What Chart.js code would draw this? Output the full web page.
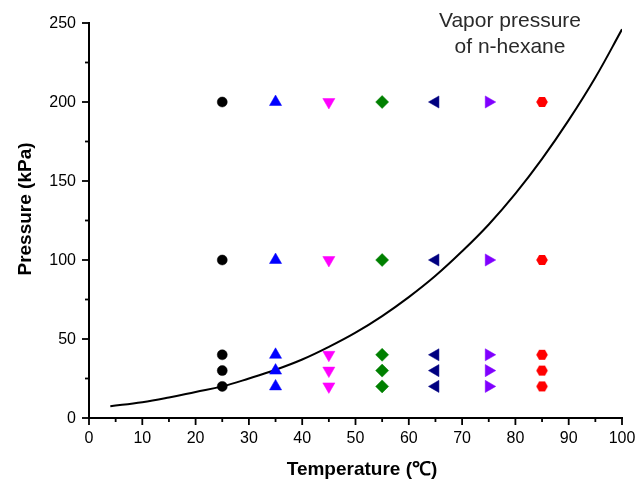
<!DOCTYPE html>
<html>
<head>
<meta charset="utf-8">
<script src="https://cdn.jsdelivr.net/npm/chart.js@4"></script>
<style>
  html, body { margin: 0; padding: 0; background: #fff; }
  #wrap { width: 637px; height: 482px; }
</style>
</head>
<body>
<div id="wrap"><canvas id="c" width="637" height="482"></canvas></div>
<script>
// measured temperatures (C)
const temps = [25, 35, 45, 55, 65, 75, 85];
const pressures = [20, 30, 40, 100, 200];

// vapor pressure curve of n-hexane
const curveT = [4, 10, 15, 20, 25, 30, 35, 40, 45, 50, 55, 60, 65, 70, 75, 80, 85, 90, 95, 100];
const curveP = [7.5, 10, 13, 16.5, 20, 25, 30.5, 37, 45, 54, 64.5, 76.5, 90, 105.5, 122.5, 142, 164, 188.5, 215.5, 246];

const xTicks = [0, 10, 20, 30, 40, 50, 60, 70, 80, 90, 100];
const yTicks = [0, 50, 100, 150, 200, 250];

// small red hexagon marker
function hexagon(color, r) {
    const c = document.createElement('canvas');
    c.width = c.height = Math.ceil(r * 2 + 2);
    const g = c.getContext('2d');
    const m = c.width / 2;
    g.fillStyle = color;
    g.beginPath();
    for (let k = 0; k < 6; k++) {
        const a = k * Math.PI / 3;
        const px = m + r * Math.cos(a), py = m + r * Math.sin(a);
        if (k === 0) g.moveTo(px, py); else g.lineTo(px, py);
    }
    g.closePath();
    g.fill();
    return c;
}

const markerColors = ['#000000', '#0000ff', '#ff00ff', '#008000', '#000080', '#8000ff', '#ff0000'];
const markerStyles = ['circle', 'triangle', 'triangle', 'rectRot', 'triangle', 'triangle', hexagon('#ff0000', 5.8)];
const markerRot = [0, 0, 180, 0, -90, 90, 0];
const markerSize = [5, 7, 7, 6.5, 7, 7, 5.8];

const datasets = [{
    type: 'line',
    data: curveT.map((t, i) => ({ x: t, y: curveP[i] })),
    borderColor: '#000',
    borderWidth: 2,
    pointRadius: 0,
    tension: 0.4,
    fill: false,
    order: 10
}];

temps.forEach((t, i) => {
    datasets.push({
        type: 'scatter',
        data: pressures.map(p => ({ x: t, y: p })),
        pointStyle: markerStyles[i],
        rotation: markerRot[i],
        backgroundColor: markerColors[i],
        borderColor: markerColors[i],
        borderWidth: 0.5,
        pointRadius: markerSize[i],
        order: 1
    });
});

// axes, ticks, labels and the note drawn by hand
const axisPlugin = {
    id: 'axes',
    afterDraw(chart) {
        const ctx = chart.ctx;
        const xs = chart.scales.x, ys = chart.scales.y;
        const a = chart.chartArea;
        ctx.save();
        ctx.strokeStyle = '#000';
        ctx.fillStyle = '#000';
        ctx.lineWidth = 2;
        ctx.beginPath();
        ctx.moveTo(a.left, a.top - 1);
        ctx.lineTo(a.left, a.bottom);
        ctx.lineTo(a.right + 1, a.bottom);
        ctx.stroke();

        ctx.lineWidth = 1.8;
        for (let v = 0; v <= 100; v += 5) {
            const px = xs.getPixelForValue(v);
            const len = v % 10 === 0 ? 7 : 4;
            ctx.beginPath();
            ctx.moveTo(px, a.bottom);
            ctx.lineTo(px, a.bottom + len);
            ctx.stroke();
        }
        for (let v = 0; v <= 250; v += 25) {
            const py = ys.getPixelForValue(v);
            const len = v % 50 === 0 ? 7 : 4;
            ctx.beginPath();
            ctx.moveTo(a.left, py);
            ctx.lineTo(a.left - len, py);
            ctx.stroke();
        }

        ctx.font = '16px Arial, "Liberation Sans"';
        ctx.textAlign = 'center';
        ctx.textBaseline = 'middle';
        xTicks.forEach(v => ctx.fillText(String(v), xs.getPixelForValue(v), 439));
        ctx.textAlign = 'right';
        yTicks.forEach(v => ctx.fillText(String(v), 76, ys.getPixelForValue(v) + 1));

        ctx.font = 'bold 19px Arial, "Liberation Sans"';
        ctx.textAlign = 'center';
        ctx.fillText('Temperature (\u2103)', 362, 470);
        ctx.save();
        ctx.translate(26, 209);
        ctx.rotate(-Math.PI / 2);
        ctx.fillText('Pressure (kPa)', 0, 0);
        ctx.restore();

        ctx.fillStyle = '#2a2a2a';
        ctx.font = '21px Arial, "Liberation Sans"';
        ctx.fillText('Vapor pressure', 510, 21);
        ctx.fillText('of n-hexane', 510, 47);
        ctx.restore();
    }
};

new Chart(document.getElementById('c'), {
    data: { datasets: datasets },
    options: {
        responsive: false,
        animation: false,
        layout: { padding: { top: 23, right: 15, left: 0, bottom: 0 } },
        plugins: { legend: { display: false }, tooltip: { enabled: false } },
        scales: {
            x: {
                type: 'linear', min: 0, max: 100,
                grid: { display: false },
                border: { display: false },
                ticks: { display: false },
                afterFit: s => { s.height = 64; }
            },
            y: {
                type: 'linear', min: 0, max: 250,
                grid: { display: false },
                border: { display: false },
                ticks: { display: false },
                afterFit: s => { s.width = 89; }
            }
        }
    },
    plugins: [axisPlugin]
});
</script>
</body>
</html>
